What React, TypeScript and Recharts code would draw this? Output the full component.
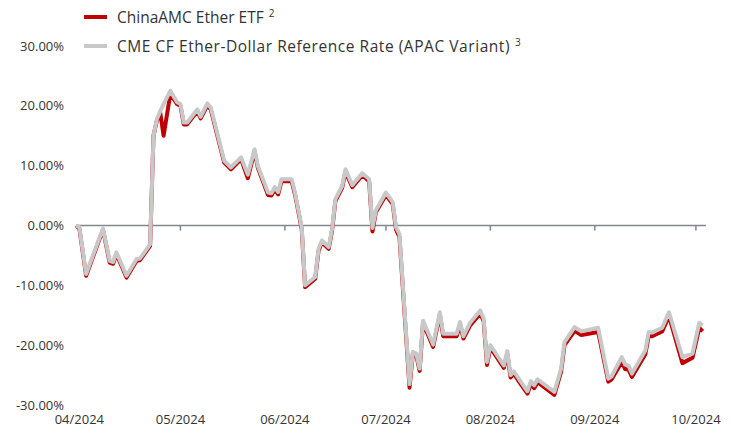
import { LineChart, Line, XAxis, YAxis, ReferenceLine } from "recharts";

// trading days shown in the chart (vertices of the curves)
const dates = [
  "2024-03-31", "2024-04-01", "2024-04-03", "2024-04-08", "2024-04-10", "2024-04-11",
  "2024-04-12", "2024-04-15", "2024-04-18", "2024-04-19", "2024-04-20", "2024-04-22",
  "2024-04-23", "2024-04-24", "2024-04-25", "2024-04-26", "2024-04-28", "2024-04-30",
  "2024-05-01", "2024-05-02", "2024-05-03", "2024-05-06", "2024-05-07", "2024-05-09",
  "2024-05-10", "2024-05-14", "2024-05-16", "2024-05-19", "2024-05-21", "2024-05-23",
  "2024-05-24", "2024-05-27", "2024-05-28", "2024-05-29", "2024-05-30", "2024-05-31",
  "2024-06-03", "2024-06-04", "2024-06-06", "2024-06-07", "2024-06-10", "2024-06-11",
  "2024-06-12", "2024-06-14", "2024-06-15", "2024-06-16", "2024-06-18", "2024-06-19",
  "2024-06-21", "2024-06-24", "2024-06-26", "2024-06-27", "2024-06-28", "2024-07-01",
  "2024-07-03", "2024-07-04", "2024-07-05", "2024-07-08", "2024-07-09", "2024-07-10",
  "2024-07-11", "2024-07-12", "2024-07-15", "2024-07-17", "2024-07-18", "2024-07-22",
  "2024-07-23", "2024-07-24", "2024-07-26", "2024-07-29", "2024-07-30", "2024-07-31",
  "2024-08-01", "2024-08-05", "2024-08-06", "2024-08-07", "2024-08-08", "2024-08-10",
  "2024-08-12", "2024-08-13", "2024-08-14", "2024-08-15", "2024-08-20", "2024-08-22",
  "2024-08-23", "2024-08-26", "2024-08-28", "2024-09-02", "2024-09-05", "2024-09-06",
  "2024-09-09", "2024-09-10", "2024-09-11", "2024-09-12", "2024-09-16", "2024-09-17",
  "2024-09-18", "2024-09-21", "2024-09-23", "2024-09-27", "2024-09-30", "2024-10-02",
  "2024-10-03",
];

// ChinaAMC Ether ETF, cumulative return in %
const etfReturns = [
  0, -0.5, -8.4, -0.7, -6.2, -6.4,
  -4.8, -8.7, -5.9, -5.8, -5.0, -3.4,
  15.0, 17.5, 18.9, 15.0, 22.0, 20.3,
  20.0, 16.9, 16.9, 19.1, 17.9, 20.1,
  19.4, 10.5, 9.4, 11.1, 7.9, 12.4,
  9.6, 5.1, 5.0, 6.0, 5.2, 7.4,
  7.4, 5.2, -0.6, -10.3, -8.9, -4.2,
  -2.8, -3.9, -0.9, 4.1, 6.3, 9.0,
  6.4, 8.4, 7.4, -1.0, 2.2, 5.1,
  3.6, -0.7, -1.9, -27.1, -21.4, -21.7,
  -24.3, -16.3, -20.3, -14.9, -18.5, -18.5,
  -16.5, -18.9, -16.7, -14.7, -16.0, -23.3,
  -20.4, -23.8, -21.4, -25.4, -24.8, -26.5,
  -28.1, -26.5, -27.2, -26.2, -28.3, -24.4,
  -20.0, -17.6, -18.3, -17.8, -26.1, -25.7,
  -22.8, -24.0, -24.1, -25.3, -21.5, -18.4,
  -18.5, -17.7, -15.1, -23.0, -22.1, -17.1,
  -17.7,
];

// CME CF Ether-Dollar Reference Rate (APAC Variant), cumulative return in %
const refReturns = [
  0, -0.3, -8.1, -0.5, -5.9, -6.1,
  -4.5, -8.4, -5.6, -5.5, -4.75, -3.1,
  15.0, 17.75, 19.1, 20.3, 22.5, 20.6,
  20.3, 17.2, 17.2, 19.4, 18.2, 20.4,
  19.7, 10.8, 9.7, 11.4, 8.5, 12.75,
  9.9, 5.5, 5.4, 6.4, 5.6, 7.75,
  7.75, 5.5, -0.3, -10.0, -8.6, -3.9,
  -2.5, -3.6, -0.6, 4.4, 6.6, 9.4,
  6.75, 8.75, 7.75, -0.4, 2.5, 5.5,
  3.9, -0.3, -1.4, -26.5, -21.1, -21.4,
  -23.9, -15.9, -19.9, -14.5, -18.1, -18.1,
  -16.1, -18.5, -16.25, -14.2, -15.6, -22.8,
  -20.0, -23.4, -21.0, -25.0, -24.4, -26.1,
  -27.7, -26.0, -26.7, -25.7, -27.8, -23.9,
  -19.5, -17.0, -17.7, -17.1, -25.6, -25.2,
  -22.0, -23.25, -23.4, -24.75, -20.9, -17.8,
  -17.9, -17.1, -14.5, -22.0, -21.4, -16.25,
  -16.7,
];

const monthTicks = [
  "2024-04-01", "2024-05-01", "2024-06-01", "2024-07-01",
  "2024-08-01", "2024-09-01", "2024-10-01",
];
const yTicks = [-30, -20, -10, 0, 10, 20, 30];

const RED = "#c00000";
const GREY = "#c8c8c8";
const AXIS = "#7f8790";
const TEXT = "#333333";
const FONT = "'Open Sans', 'Noto Sans', sans-serif";

const BASE = Date.UTC(2024, 3, 1);
const toDay = (iso: string) => {
  const [y, m, d] = iso.split("-").map(Number);
  return (Date.UTC(y, m - 1, d) - BASE) / 86400000;
};
const fmtMonth = (day: number) => {
  const dt = new Date(BASE + day * 86400000);
  return `${String(dt.getUTCMonth() + 1).padStart(2, "0")}/${dt.getUTCFullYear()}`;
};

const data = dates.map((d, i) => ({
  day: toDay(d),
  etf: etfReturns[i],
  ref: refReturns[i],
}));
const tickDays = monthTicks.map(toDay);

const legendItems = [
  { label: "ChinaAMC Ether ETF", note: "2", color: RED, top: 8, spacing: 0 },
  { label: "CME CF Ether-Dollar Reference Rate (APAC Variant)", note: "3", color: GREY, top: 37, spacing: 0.55 },
];

export default function App() {
  return (
    <div style={{ position: "relative", width: 735, height: 435, background: "#fff" }}>
      <style>{"body{margin:0}"}</style>
      <LineChart
        width={735}
        height={435}
        data={data}
        margin={{ top: 46, right: 29, left: 0, bottom: 0 }}
      >
        <XAxis
          dataKey="day"
          type="number"
          domain={[-1, 186]}
          ticks={tickDays}
          tickFormatter={fmtMonth}
          axisLine={false}
          tickLine={false}
          height={30}
          tickMargin={4}
          tick={{ fontSize: 13, fill: TEXT, fontFamily: FONT }}
        />
        <YAxis
          domain={[-30, 30]}
          ticks={yTicks}
          tickFormatter={(v) => `${v.toFixed(2)}%`}
          axisLine={false}
          tickLine={false}
          width={76}
          tickMargin={6}
          tick={{ fontSize: 13, fill: TEXT, fontFamily: FONT }}
        />
        <ReferenceLine y={0} stroke={AXIS} strokeWidth={1.5} />
        {tickDays.map((t) => (
          <ReferenceLine
            key={t}
            segment={[
              { x: t, y: 0 },
              { x: t, y: -0.85 },
            ]}
            stroke={AXIS}
            strokeWidth={1.5}
          />
        ))}
        <Line
          dataKey="etf"
          type="linear"
          stroke={RED}
          strokeWidth={4}
          dot={false}
          strokeLinejoin="round"
          isAnimationActive={false}
        />
        <Line
          dataKey="ref"
          type="linear"
          stroke={GREY}
          strokeWidth={4}
          dot={false}
          strokeLinejoin="round"
          isAnimationActive={false}
        />
      </LineChart>

      {/* Legend */}
      {legendItems.map((item) => (
        <div
          key={item.label}
          style={{
            position: "absolute",
            left: 84,
            top: item.top,
            display: "flex",
            alignItems: "center",
            fontFamily: FONT,
            fontSize: 15.5,
            color: TEXT,
            lineHeight: "18px",
            whiteSpace: "nowrap",
          }}
        >
          <span
            style={{ width: 23, height: 4, background: item.color, display: "inline-block", marginRight: 10 }}
          />
          <span style={{ letterSpacing: item.spacing }}>{item.label}</span>
          <span style={{ fontSize: 10, position: "relative", top: -4, marginLeft: 5 }}>{item.note}</span>
        </div>
      ))}
    </div>
  );
}
